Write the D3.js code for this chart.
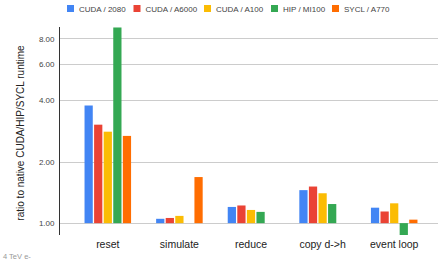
<!DOCTYPE html>
<html>
<head>
<meta charset="utf-8">
<script src="https://cdn.jsdelivr.net/npm/d3@7"></script>
<style>
  body { margin: 0; background: #fff; }
  svg { font-family: Arial, "Liberation Sans", sans-serif; }
</style>
</head>
<body>
<div id="chart"></div>
<script>
// data
const categories = ["reset", "simulate", "reduce", "copy d->h", "event loop"];
const seriesNames = ["CUDA / 2080", "CUDA / A6000", "CUDA / A100", "HIP / MI100", "SYCL / A770"];
const seriesColors = ["#4285F4", "#EA4335", "#FBBC04", "#34A853", "#FF6D01"];
const cuda2080 = [3.76, 1.05, 1.20, 1.45, 1.19];
const cudaA6000 = [3.03, 1.06, 1.22, 1.51, 1.14];
const cudaA100 = [2.80, 1.085, 1.16, 1.40, 1.25];
const hipMI100 = [9.05, null, 1.135, 1.24, 0.875];
const syclA770 = [2.67, 1.68, null, null, 1.04];
const yTicks = [1, 2, 4, 6, 8];

const values = [cuda2080, cudaA6000, cudaA100, hipMI100, syclA770];

const width = 439, height = 267;

const svg = d3.select("#chart").append("svg")
    .attr("width", width)
    .attr("height", height);

const y = d3.scaleLog().domain([0.875, 9.1]).range([235, 27]);

const x0 = d3.scaleBand().domain(categories)
    .range([72, 430])
    .paddingInner(0.35)
    .paddingOuter(0.175);

const x1 = d3.scaleBand().domain(seriesNames)
    .range([0, x0.bandwidth()])
    .paddingInner(0.14);

// gridlines
svg.append("g")
    .selectAll("line")
    .data(yTicks)
    .enter().append("line")
    .attr("x1", 60)
    .attr("x2", 438)
    .attr("y1", d => Math.round(y(d)) + 0.5)
    .attr("y2", d => Math.round(y(d)) + 0.5)
    .attr("stroke", "#cccccc")
    .attr("stroke-width", 1);

// tick labels
const yAxis = d3.axisLeft(y)
    .tickValues(yTicks)
    .tickFormat(d3.format(".2f"))
    .tickSize(0)
    .tickPadding(5);

const yg = svg.append("g")
    .attr("transform", "translate(59.5,0)")
    .call(yAxis);
yg.select(".domain").remove();
yg.selectAll("text")
    .attr("fill", "#444")
    .style("font-size", "8px");

// bars
const groups = svg.append("g")
    .selectAll("g")
    .data(categories)
    .enter().append("g")
    .attr("transform", d => `translate(${x0(d)},0)`);

groups.selectAll("rect")
    .data((c, i) => seriesNames.map((s, j) => ({ s: s, v: values[j][i], color: seriesColors[j] })))
    .enter()
    .filter(d => d.v != null)
    .append("rect")
    .attr("x", d => x1(d.s))
    .attr("width", x1.bandwidth())
    .attr("y", d => Math.min(y(d.v), y(1)))
    .attr("height", d => Math.abs(y(d.v) - y(1)))
    .attr("fill", d => d.color);

// y axis line
svg.append("line")
    .attr("x1", 59.5).attr("x2", 59.5)
    .attr("y1", 27).attr("y2", 235)
    .attr("stroke", "#333")
    .attr("stroke-width", 1);

// x category labels
const xAxis = d3.axisBottom(x0).tickSize(0).tickPadding(0);
const xg = svg.append("g")
    .attr("transform", "translate(0,241)")
    .call(xAxis);
xg.select(".domain").remove();
xg.selectAll("text")
    .attr("fill", "#222")
    .style("font-size", "10.5px");

// y axis title
svg.append("text")
    .attr("transform", "translate(24,133) rotate(-90)")
    .attr("text-anchor", "middle")
    .attr("fill", "#222")
    .style("font-size", "10px")
    .text("ratio to native CUDA/HIP/SYCL runtime");

// footnote
svg.append("text")
    .attr("x", 3)
    .attr("y", 259)
    .attr("fill", "#999")
    .style("font-size", "7.5px")
    .text("4 TeV e-");

// legend
const legendX = [67, 133.5, 204, 271, 332];
const legend = svg.append("g")
    .selectAll("g")
    .data(seriesNames)
    .enter().append("g")
    .attr("transform", (d, i) => `translate(${legendX[i]},5)`);

legend.append("rect")
    .attr("width", 7)
    .attr("height", 7)
    .attr("fill", (d, i) => seriesColors[i]);

legend.append("text")
    .attr("x", 12)
    .attr("y", 6.5)
    .attr("fill", "#444")
    .style("font-size", "8px")
    .text(d => d);
</script>
</body>
</html>
